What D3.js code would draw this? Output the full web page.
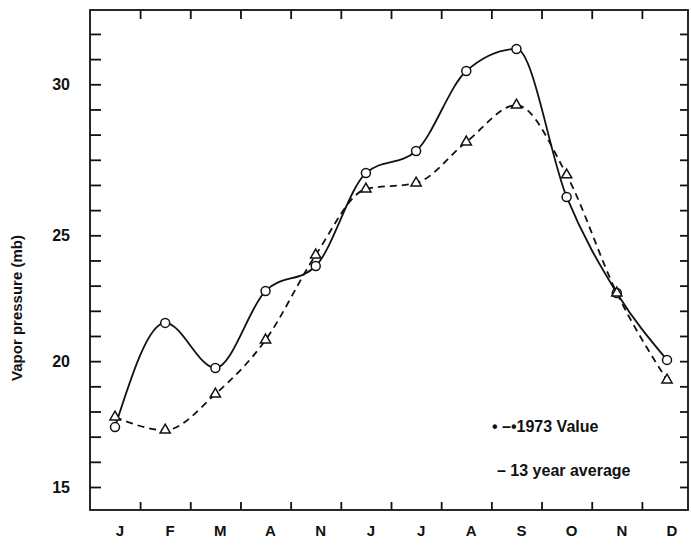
<!DOCTYPE html>
<html>
<head>
<meta charset="utf-8">
<script src="https://cdn.jsdelivr.net/npm/d3@7"></script>
<style>
body { margin: 0; background: #fff; }
svg text { font-family: "Liberation Sans", Arial, sans-serif; font-weight: bold; fill: #111; }
</style>
</head>
<body>
<svg id="chart" width="691" height="546"></svg>
<script>
// month labels as printed (the fifth one really reads "N" in the original)
let months = ["J", "F", "M", "A", "N", "J", "J", "A", "S", "O", "N", "D"];
let value1973 = [17.38, 21.52, 19.73, 22.79, 23.78, 27.06, 27.79, 30.44, 31.17, 26.27, 22.71, 20.05];
let average13 = [17.78, 17.26, 18.69, 20.84, 24.22, 26.53, 26.73, 28.09, 29.31, 27.0, 22.71, 19.25];
let yLabels = [15, 20, 25, 30];
// minor tick that each label sits on (the 30 sits one tick higher than an even step)
let yLabelSlots = [0, 5, 10, 16];
let legendLabels = ["\u2022 \u2013\u20221973 Value", "\u2013 13 year average"];

let margin = {top: 10, right: 3, bottom: 36, left: 90};
let width = 691 - margin.left - margin.right;
let height = 546 - margin.top - margin.bottom;

let slotStep = 25.17;
let slotY = (k) => 477 - k * slotStep;

let svg = d3.select("#chart");
let g = svg.append("g")
    .attr("transform", "translate(" + margin.left + "," + margin.top + ")");

let x = d3.scaleLinear()
    .domain([0, months.length - 1])
    .range([25, 577]);

let y = d3.scaleLinear()
    .domain(yLabels)
    .range(yLabelSlots.map(slotY));

let slotToValue = d3.scaleLinear().domain(yLabelSlots).range(yLabels);
let minorValues = d3.range(19).map(slotToValue);
let monthEdges = d3.range(months.length - 1).map((i) => i + 0.5);

//tick marks, all pointing inwards
function tidy(sel) {
    sel.select(".domain").remove();
    sel.selectAll(".tick line").attr("stroke", "#111").attr("stroke-width", 1.8);
}

g.append("g")
    .call(d3.axisRight(y).tickValues(minorValues).tickSize(11).tickFormat(""))
    .call(tidy);

g.append("g")
    .attr("transform", "translate(" + width + ",0)")
    .call(d3.axisLeft(y).tickValues(minorValues).tickSize(8).tickFormat(""))
    .call(tidy);

g.append("g")
    .attr("transform", "translate(0," + height + ")")
    .call(d3.axisTop(x).tickValues(monthEdges).tickSize(8).tickFormat(""))
    .call(tidy);

g.append("g")
    .call(d3.axisBottom(x).tickValues(monthEdges).tickSize(9).tickFormat(""))
    .call(tidy);

//frame
g.append("rect")
    .attr("width", width)
    .attr("height", height)
    .attr("fill", "none")
    .attr("stroke", "#111")
    .attr("stroke-width", 1.8);

//labels
g.selectAll(".ylabel")
    .data(yLabels)
    .enter().append("text")
    .attr("class", "ylabel")
    .attr("x", -20)
    .attr("y", (d) => y(d) + 6)
    .attr("text-anchor", "end")
    .style("font-size", "16px")
    .text((d) => d);

g.selectAll(".month")
    .data(months)
    .enter().append("text")
    .attr("class", "month")
    .attr("x", (d, i) => x(i) + 5)
    .attr("y", height + 26)
    .attr("text-anchor", "middle")
    .style("font-size", "15px")
    .text((d) => d);

svg.append("text")
    .attr("transform", "translate(22,308) rotate(-90)")
    .attr("text-anchor", "middle")
    .style("font-size", "15px")
    .text("Vapor pressure (mb)");

//curves
let line = d3.line()
    .x((d, i) => x(i))
    .y((d) => y(d))
    .curve(d3.curveMonotoneX);

g.append("path")
    .datum(average13)
    .attr("d", line)
    .attr("fill", "none")
    .attr("stroke", "#111")
    .attr("stroke-width", 1.8)
    .attr("stroke-dasharray", "7,5");

g.append("path")
    .datum(value1973)
    .attr("d", line)
    .attr("fill", "none")
    .attr("stroke", "#111")
    .attr("stroke-width", 1.8);

g.selectAll(".dot")
    .data(value1973)
    .enter().append("circle")
    .attr("class", "dot")
    .attr("cx", (d, i) => x(i))
    .attr("cy", (d) => y(d))
    .attr("r", 4.5)
    .attr("fill", "#fff")
    .attr("stroke", "#111")
    .attr("stroke-width", 1.5);

g.selectAll(".tri")
    .data(average13)
    .enter().append("path")
    .attr("class", "tri")
    .attr("d", d3.symbol(d3.symbolTriangle, 45))
    .attr("transform", (d, i) => "translate(" + x(i) + "," + y(d) + ")")
    .attr("fill", "#fff")
    .attr("stroke", "#111")
    .attr("stroke-width", 1.5);

//legend
g.selectAll(".legend")
    .data(legendLabels)
    .enter().append("text")
    .attr("class", "legend")
    .attr("x", (d, i) => width - 196 + i * 5)
    .attr("y", (d, i) => 422 + i * 44)
    .style("font-size", "16px")
    .text((d) => d);
</script>
</body>
</html>
